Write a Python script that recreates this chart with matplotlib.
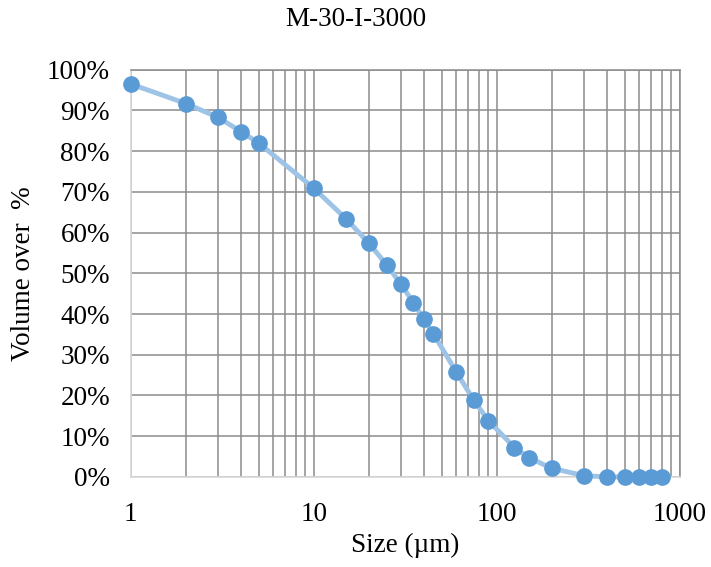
import numpy as np
import matplotlib.pyplot as plt
from matplotlib.ticker import LogLocator, FixedLocator, PercentFormatter, NullFormatter

plt.rcParams['font.family'] = ['Liberation Serif', 'DejaVu Serif']

# Particle size (µm) and volume over (%)
size_um = [1, 2, 3, 4, 5, 10, 15, 20, 25, 30, 35, 40, 45, 60, 75, 90,
           125, 150, 200, 300, 400, 500, 600, 700, 800]
volume_over = [96.5, 91.7, 88.3, 84.8, 82.0, 70.9, 63.4, 57.4, 52.1, 47.3,
               42.8, 38.7, 35.2, 25.8, 18.8, 13.8, 7.2, 4.7, 2.1, 0.3,
               0.0, 0.0, 0.0, 0.0, 0.0]
x_ticks = [1, 10, 100, 1000]
x_tick_labels = ['1', '10', '100', '1000']

fs = 19.5

fig = plt.figure(figsize=(7.11, 5.67), dpi=100)
ax = fig.add_axes([0.184, 0.159, 0.772, 0.718])

ax.plot(size_um, volume_over, color='#9DC3E6', lw=3.5, zorder=3, clip_on=False)
ax.plot(size_um, volume_over, 'o', color='#5B9BD5', ms=11, mec='#5B9BD5',
        zorder=4, clip_on=False)

ax.set_xscale('log')
ax.set_xlim(1, 1000)
ax.set_ylim(0, 100)
ax.xaxis.set_major_locator(FixedLocator(x_ticks))
ax.set_xticklabels(x_tick_labels)
ax.xaxis.set_minor_locator(LogLocator(base=10, subs=np.arange(2, 10)))
ax.xaxis.set_minor_formatter(NullFormatter())
ax.set_yticks(np.arange(0, 101, 10))
ax.yaxis.set_major_formatter(PercentFormatter(decimals=0))

ax.grid(which='both', axis='x', color='#8c8c8c', lw=1.1)
ax.grid(which='major', axis='y', color='#8c8c8c', lw=1.1)
ax.set_axisbelow(True)
ax.tick_params(which='both', length=0, labelsize=fs)
ax.tick_params(axis='x', pad=18)
ax.tick_params(axis='y', pad=15)

for side in ['left', 'bottom']:
    ax.spines[side].set_color('#d9d9d9')
    ax.spines[side].set_linewidth(1.2)
for side in ['top', 'right']:
    ax.spines[side].set_color('#8c8c8c')
    ax.spines[side].set_linewidth(1.1)

# title centred on the whole chart, axis titles on the plot area
fig.text(0.5, 1 - 20 / 567, 'M-30-I-3000', fontsize=fs, ha='center', va='center')
ax.text(0.5, -0.168, 'Size (µm)', transform=ax.transAxes, fontsize=fs,
        ha='center', va='center')
fig.text(23 / 711, 0.5 * (0.159 + 0.877), 'Volume over  %', fontsize=fs,
         rotation=90, ha='center', va='center')

fig.savefig('out.png', dpi=100)
